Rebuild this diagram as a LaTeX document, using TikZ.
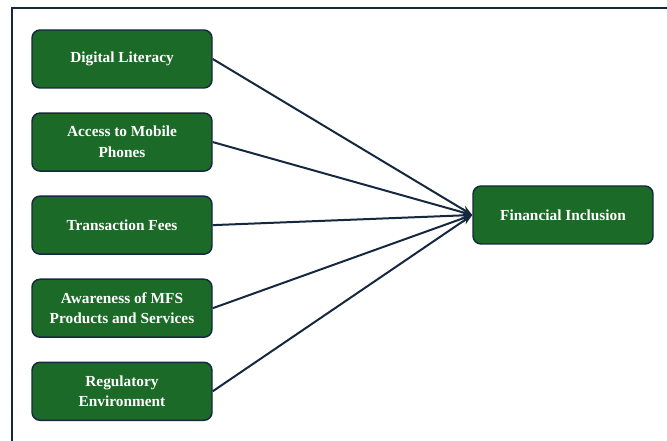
\documentclass[tikz,border=0pt]{standalone}
\usepackage{fontspec}
\setmainfont{Liberation Serif}
\usepackage{tikz}
\usetikzlibrary{arrows.meta, positioning}
\definecolor{boxgreen}{RGB}{28,106,40}
\definecolor{navyline}{RGB}{22,40,64}

\begin{document}
\begin{tikzpicture}[
    x=0.75pt, y=-0.75pt,
    node distance=17.7pt,
    factor/.style={draw=navyline, fill=boxgreen, rounded corners=6pt, line width=1.1pt,
                   minimum width=135pt, minimum height=43.5pt, align=center,
                   text=white, font=\fontsize{11.5}{15.5}\selectfont\bfseries},
    arr/.style={-{Stealth[length=8pt, width=6pt]}, color=navyline, line width=1.5pt},
]
\useasboundingbox (0,0) rectangle (667,441);
\draw[navyline, line width=2.2pt] (12,441) -- (12,8) -- (667,8);

\node[factor] (lit) at (122,59) {Digital Literacy};
\node[factor, below=of lit] (phone) {Access to Mobile\\Phones};
\node[factor, below=of phone] (fees) {Transaction Fees};
\node[factor, below=of fees] (aware) {Awareness of MFS\\Products and Services};
\node[factor, below=of aware] (reg) {Regulatory\\Environment};
\node[factor] (incl) at (563,215) {Financial Inclusion};

\draw[arr] (lit.east) -- (incl.west);
\draw[arr] (phone.east) -- (incl.west);
\draw[arr] (fees.east) -- (incl.west);
\draw[arr] (aware.east) -- (incl.west);
\draw[arr] (reg.east) -- (incl.west);
\end{tikzpicture}
\end{document}
